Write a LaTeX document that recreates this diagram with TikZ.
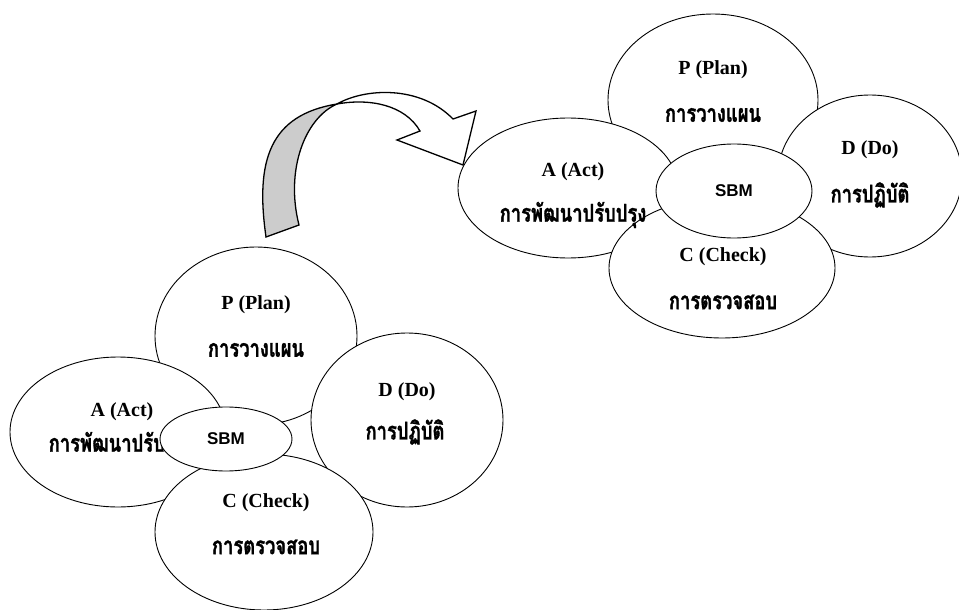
\documentclass[tikz,border=0pt]{standalone}
\usepackage{fontspec}
\setmainfont{Liberation Serif}
\newfontfamily\thaifont[Script=Thai, FakeStretch=0.75, BoldFeatures={FakeBold=1.2}]{Loma}
\newfontfamily\arialfont{Liberation Sans}
\usetikzlibrary{shapes.geometric}
\tikzset{
  petal/.style={ellipse, draw=black, line width=0.9pt, fill=white, inner sep=0pt},
  hub/.style={ellipse, draw=black, line width=0.9pt, fill=white, inner sep=0pt,
    font=\arialfont\bfseries\fontsize{17}{19}\selectfont},
  lat/.style={inner sep=0pt, font=\bfseries\fontsize{20}{22}\selectfont},
  thai/.style={inner sep=0pt, font=\thaifont\bfseries\fontsize{24.5}{28}\selectfont},
  arrowline/.style={draw=black, line width=1.3pt, line join=miter},
}
\begin{document}
\begin{tikzpicture}[x=1pt,y=-1pt]
\useasboundingbox (0,0) rectangle (959,610);
% ---------------- curved arrow ----------------
\coordinate (t1) at (266,237);
\coordinate (t2) at (299,225);
\coordinate (tw) at (337,104);
\coordinate (b1) at (453,119);
\coordinate (b2) at (476,111);
\coordinate (tip) at (463,165);
\coordinate (b3) at (397,140);
\coordinate (in) at (420,131);
\path[arrowline, fill=white] (tw) .. controls (365,88) and (420,85) .. (b1)
  -- (b2) -- (tip) -- (b3) -- (in)
  .. controls (405,105) and (370,98) .. (tw) -- cycle;
\path[arrowline, fill=black!20] (t1) .. controls (255,160) and (270,115) .. (tw)
  .. controls (305,118) and (285,170) .. (t2) -- cycle;
% ---------------- lower-left group ----------------
\node[petal, minimum width=202pt, minimum height=178pt] (lP) at (256,336) {};
\node[petal, minimum width=216pt, minimum height=150pt] (lA) at (118,432) {};
\node[petal, minimum width=192pt, minimum height=174pt] (lD) at (407,420) {};
\node[petal, minimum width=218pt, minimum height=156pt] (lC) at (264,532) {};
\node[lat] (lPt) at (256,305) {P (Plan)};
\node[thai] (lPs) at (256,350) {การวางแผน};
\node[lat] (lAt) at (122,412) {A (Act)};
\node[thai] (lAs) at (122,445) {การพัฒนาปรับปรุง};
\node[lat] (lDt) at (407,392) {D (Do)};
\node[thai] (lDs) at (405,432) {การปฏิบัติ};
\node[lat] (lCt) at (266,503) {C (Check)};
\node[thai] (lCs) at (266,547) {การตรวจสอบ};
\node[hub, minimum width=132pt, minimum height=64pt] (lS) at (226,439) {SBM};
% ---------------- upper-right group ----------------
\node[petal, minimum width=210pt, minimum height=172pt] (uP) at (713,100) {};
\node[petal, minimum width=220pt, minimum height=140pt] (uA) at (568,188) {};
\node[petal, minimum width=184pt, minimum height=162pt] (uD) at (870,176) {};
\node[petal, minimum width=226pt, minimum height=140pt] (uC) at (722,268) {};
\node[lat] (uPt) at (713,70) {P (Plan)};
\node[thai] (uPs) at (713,115) {การวางแผน};
\node[lat] (uAt) at (573,172) {A (Act)};
\node[thai] (uAs) at (573,215) {การพัฒนาปรับปรุง};
\node[lat] (uDt) at (870,150) {D (Do)};
\node[thai] (uDs) at (870,195) {การปฏิบัติ};
\node[lat] (uCt) at (723,257) {C (Check)};
\node[thai] (uCs) at (723,302) {การตรวจสอบ};
\node[hub, minimum width=156pt, minimum height=94pt] (uS) at (734,191) {SBM};
\end{tikzpicture}
\end{document}
